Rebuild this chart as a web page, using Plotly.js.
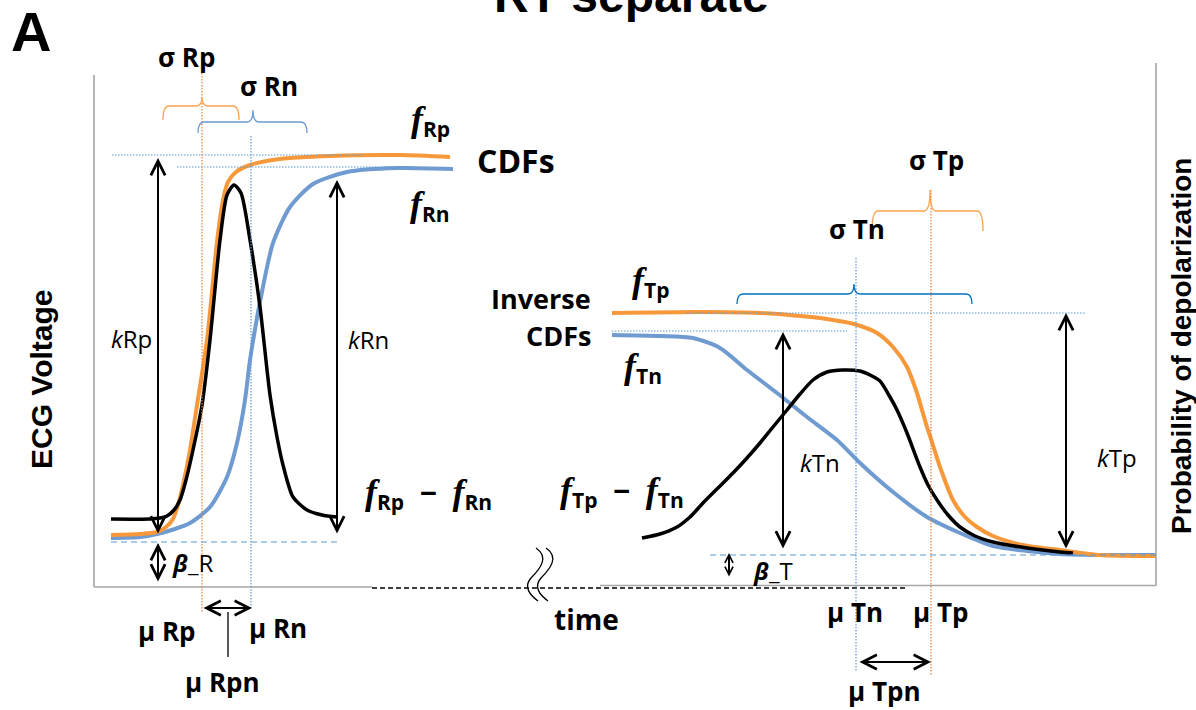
<!DOCTYPE html>
<html>
<head>
<meta charset="utf-8">
<script src="https://cdn.plot.ly/plotly-3.0.1.min.js"></script>
<style>
  html, body { margin: 0; padding: 0; background: #fff; }
  #chart { width: 1196px; height: 710px; }
</style>
</head>
<body>
<div id="chart"></div>
<script>
'use strict';

// curve points (x: time, y: voltage, both in picture units)
const fRpX = [111, 140, 157, 166, 173, 178, 183, 190, 197, 207, 217, 223, 228, 236, 250, 280, 330, 400, 450];
const fRpY = [535, 534, 532, 527, 519, 505, 485, 450, 405, 340, 242, 200, 182, 172, 165, 159, 156, 155, 157];
const fRnX = [111, 140, 157, 175, 190, 210, 227, 237, 245, 250, 260, 273, 290, 313, 347, 397, 453];
const fRnY = [538, 537, 534, 529, 523, 507, 477, 443, 400, 360, 302, 243, 207, 184, 172, 168, 169];
const dRX = [111, 150, 160, 167, 174, 180, 186, 193, 202, 210, 220, 227, 234, 241, 250, 260, 270, 277, 283, 293, 307, 322, 337];
const dRY = [519, 519, 518, 516, 510, 500, 480, 450, 405, 340, 240, 195, 185, 193, 240, 307, 395, 437, 465, 497, 510, 515, 517];

const fTpX = [612, 700, 760, 800, 827, 854, 877, 893, 907, 917, 922, 927, 932, 940, 953, 965, 977, 993, 1010, 1035, 1060, 1100, 1156];
const fTpY = [313, 312, 313, 316, 319, 324, 333, 347, 367, 393, 410, 427, 442, 467, 500, 517, 527, 536, 542, 547, 550, 555, 556];
const fTnX = [612, 660, 693, 720, 747, 777, 807, 837, 860, 893, 927, 960, 993, 1027, 1060, 1100, 1156];
const fTnY = [335, 336, 338, 348, 370, 393, 417, 440, 463, 492, 517, 533, 546, 551, 554, 555, 555];
const dTX = [642, 660, 677, 690, 703, 718, 733, 747, 760, 773, 787, 800, 813, 827, 843, 860, 872, 880, 890, 897, 907, 920, 928, 937, 948, 960, 975, 993, 1027, 1060, 1073];
const dTY = [538, 534, 527, 517, 503, 488, 473, 458, 443, 427, 410, 394, 380, 372, 370, 371, 376, 381, 397, 410, 433, 467, 485, 500, 515, 527, 536, 542, 548, 552, 553];

const ORANGE = '#f7983a';
const BLUE = '#6f9bd1';
const DOT_BLUE = '#5b9bd5';
const DOT_ORANGE = '#ed7d31';
const AXIS_GREY = '#a6a6a6';
const SANS = 'Open Sans, Noto Sans, sans-serif';
const ARIAL = 'Liberation Sans, Arial, sans-serif';
const SERIF = 'Liberation Serif';
const NB = '\u00a0';

function curve(x, y, color, width) {
    return { x, y, type: 'scatter', mode: 'lines', line: { color, width, shape: 'spline', smoothing: 0.7 }, hoverinfo: 'skip' };
}

function seg(x0, y0, x1, y1, color, width, dash) {
    return { type: 'line', xref: 'x', yref: 'y', x0, y0, x1, y1, line: { color, width, dash: dash || 'solid' } };
}

function brace(x0, x1, xc, yBar, yEnd, yTip, color) {
    const r = 6;
    return {
        type: 'path', xref: 'x', yref: 'y', line: { color, width: 1.3 },
        path: `M${x0},${yEnd} Q${x0},${yBar} ${x0 + r},${yBar} L${xc - r},${yBar} Q${xc},${yBar} ${xc},${yTip} ` +
              `Q${xc},${yBar} ${xc + r},${yBar} L${x1 - r},${yBar} Q${x1},${yBar} ${x1},${yEnd}`
    };
}

function arrow(x0, y0, x1, y1, size) {
    const s = size || 1.4;
    return {
        x: x1, y: y1, ax: x0, ay: y0, xref: 'x', yref: 'y', axref: 'x', ayref: 'y',
        text: '', showarrow: true, arrowside: 'end+start',
        arrowhead: 5, startarrowhead: 5, arrowsize: s, startarrowsize: s,
        arrowwidth: 2, arrowcolor: '#000'
    };
}

function label(text, x, y, size, extra) {
    return Object.assign({
        x, y, xref: 'x', yref: 'y', text, showarrow: false,
        font: { family: SANS, size, color: '#000' }
    }, extra || {});
}

function fsym(sub) {
    return `<span style="font-family:${SERIF};font-size:36px"><b><i>f</i></b></span><b><sub>${sub}</sub></b>`;
}

const MINUS = `<b>${NB}${NB}−${NB}${NB}</b>`;

const data = [
    curve(fRnX, fRnY, BLUE, 4),
    curve(fRpX, fRpY, ORANGE, 4),
    curve(dRX, dRY, '#000', 3.5),
    curve(fTnX, fTnY, BLUE, 4),
    curve(fTpX, fTpY, ORANGE, 4),
    curve(dTX, dTY, '#000', 3.5)
];

const shapes = [
    // frame
    seg(94, 75, 94, 587, AXIS_GREY, 1.6),
    seg(94, 587, 372, 587, AXIS_GREY, 1.6),
    seg(600, 585.5, 1156, 585.5, AXIS_GREY, 1.6),
    seg(1156, 63, 1156, 585.5, AXIS_GREY, 1.6),
    seg(372, 588, 908, 588, '#000', 1.3, '5px,3px'),
    // axis break
    { type: 'path', xref: 'x', yref: 'y', line: { color: '#000', width: 1.3 },
      path: 'M536,548 C549,557 541,568 531,578 C523,587 530,595 538,601' },
    { type: 'path', xref: 'x', yref: 'y', line: { color: '#000', width: 1.3 },
      path: 'M546,548 C559,557 551,568 541,578 C533,587 540,595 548,601' },
    // R wave guides
    seg(112, 155, 363, 155, DOT_BLUE, 1.2, '1.5px,1.5px'),
    seg(177, 167, 413, 167, DOT_BLUE, 1.2, '1.5px,1.5px'),
    seg(202, 73, 202, 613, DOT_ORANGE, 1.2, '1.5px,1.5px'),
    seg(251, 136, 251, 608, DOT_BLUE, 1.2, '1.5px,1.5px'),
    seg(111, 542, 337, 542, DOT_BLUE, 1.2, '6px,4px'),
    seg(228, 612, 228, 657, '#000', 1.3),
    // T wave guides
    seg(687, 313, 1086, 313, DOT_BLUE, 1.2, '1.5px,1.5px'),
    seg(612, 331, 847, 331, DOT_BLUE, 1.2, '1.5px,1.5px'),
    seg(856, 258, 856, 672, DOT_BLUE, 1.2, '1.5px,1.5px'),
    seg(931, 190, 931, 675, DOT_ORANGE, 1.2, '1.5px,1.5px'),
    seg(710, 555, 1156, 555, DOT_BLUE, 1.2, '6px,4px'),
    // sigma braces
    brace(163, 239, 202, 106, 120, 97, '#f7a24b'),
    brace(198, 307, 253, 122, 133, 110, '#6b9bd2'),
    brace(737, 972, 854, 294, 304, 284, '#0070c0'),
    brace(872, 983, 930, 211, 231, 190, '#f7a24b')
];

const annotations = [
    label('<b>RT separate</b>', 0.528, 1, 48, { xref: 'paper', yref: 'paper', yanchor: 'middle', yshift: 5, font: { family: ARIAL, size: 48, color: '#000' } }),
    label('<b>A</b>', 31, 31, 56, { font: { family: ARIAL, size: 56, color: '#000' } }),
    label('<b>ECG Voltage</b>', 41, 380, 30, { textangle: -90, font: { family: ARIAL, size: 30, color: '#000' } }),
    label('<b>Probability of depolarization</b>', 1181, 346, 28, { textangle: -90, font: { family: ARIAL, size: 28, color: '#000' } }),
    label('<b>time</b>', 586, 619, 28),

    label('<b>σ Rp</b>', 186, 57, 26),
    label('<b>σ Rn</b>', 269, 86, 26),
    label(fsym('Rp'), 430, 121, 30),
    label('<b>CDFs</b>', 516, 160, 32),
    label(fsym('Rn'), 430, 206, 30),
    label('<i>k</i>Rp', 131, 338, 24),
    label('<i>k</i>Rn', 368, 339, 24),
    label(fsym('Rp') + MINUS + fsym('Rn'), 428, 494, 30),
    label('<b><i>β</i></b>_R', 192, 562, 24),
    label('<b>μ Rp</b>', 167, 631, 26),
    label('<b>μ Rn</b>', 278, 628, 26),
    label('<b>μ Rpn</b>', 222, 682, 26),

    label('<b>Inverse</b>', 593, 298, 27, { xanchor: 'right' }),
    label('<b>CDFs</b>', 593, 335, 27, { xanchor: 'right' }),
    label(fsym('Tp'), 650, 282, 30),
    label(fsym('Tn'), 643, 368, 30),
    label('<b>σ Tn</b>', 857, 229, 26),
    label('<b>σ Tp</b>', 936, 160, 26),
    label('<i>k</i>Tn', 820, 462, 24),
    label('<i>k</i>Tp', 1117, 457, 24),
    label(fsym('Tp') + MINUS + fsym('Tn'), 622, 492, 30),
    label('<b><i>β</i></b>_T', 773, 570, 24),
    label('<b>μ Tn</b>', 855, 612, 26),
    label('<b>μ Tp</b>', 940, 612, 26),
    label('<b>μ Tpn</b>', 884, 691, 26),

    arrow(158, 535, 158, 158),
    arrow(337, 535, 337, 180),
    arrow(158, 583, 158, 543),
    arrow(202, 608, 252, 608),
    arrow(783, 550, 783, 332),
    arrow(1066, 550, 1066, 313),
    arrow(729, 578, 729, 553, 0.8),
    arrow(858, 662, 931, 662)
];

const layout = {
    width: 1196,
    height: 710,
    margin: { l: 0, r: 0, t: 0, b: 0 },
    paper_bgcolor: '#fff',
    plot_bgcolor: '#fff',
    showlegend: false,
    xaxis: { range: [0, 1196], visible: false, fixedrange: true },
    yaxis: { range: [710, 0], visible: false, fixedrange: true },
    shapes,
    annotations
};

Plotly.newPlot('chart', data, layout, { staticPlot: true });
</script>
</body>
</html>
